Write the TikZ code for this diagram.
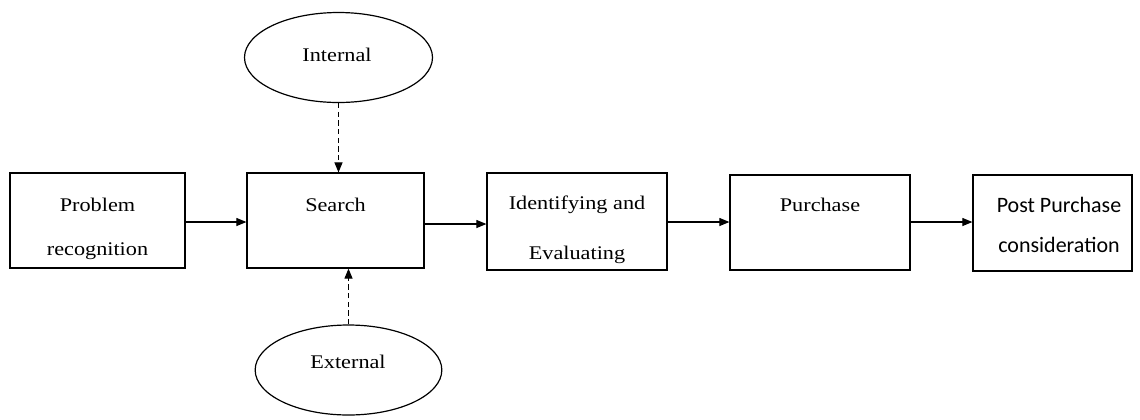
\documentclass[tikz,border=0pt]{standalone}
\usepackage{fontspec}
\setmainfont{Liberation Serif}[FakeStretch=1.15]
\newfontfamily\calibrifont{Carlito}
\usetikzlibrary{arrows.meta,shapes.geometric}

\tikzset{
  stagebox/.style={draw, line width=0.9pt, inner sep=0pt},
  srcellipse/.style={draw, ellipse, line width=0.9pt, inner sep=0pt},
  flowarrow/.style={line width=0.8pt, -{Triangle[length=7.5pt,width=6pt]}},
  srcarrow/.style={flowarrow, dash pattern=on 4pt off 2.5pt},
  lbl/.style={inner sep=0.75pt, font=\fontsize{14.5}{16}\selectfont}
}

\begin{document}
\begin{tikzpicture}[x=0.75pt,y=0.75pt,yscale=-1,xscale=1]

\useasboundingbox (0,0) rectangle (1140,419);

% stage boxes
\node [stagebox, minimum width=131.25pt, minimum height=71.25pt] (prob) at (97.5,220.5) {};
\node [stagebox, minimum width=132.75pt, minimum height=71.25pt] (srch) at (335.5,220.5) {};
\node [stagebox, minimum width=135pt, minimum height=72.75pt] (ident) at (577,221.5) {};
\node [stagebox, minimum width=135pt, minimum height=71.25pt] (purch) at (820,222.5) {};
\node [stagebox, minimum width=119.25pt, minimum height=72pt] (post) at (1052.5,223) {};

% information sources
\node [srcellipse, minimum width=141pt, minimum height=67.5pt] (intl) at (338.5,57.5) {};
\node [srcellipse, minimum width=140pt, minimum height=67.5pt] (extl) at (348.5,370) {};

% texts
\draw (97.5,205) node [lbl] {Problem};
\draw (97.5,251) node [lbl] {recognition};
\draw (335.5,205) node [lbl] {Search};
\draw (577,205) node [lbl] {Identifying and};
\draw (577,255) node [lbl] {Evaluating};
\draw (820,205) node [lbl] {Purchase};
\draw (1059,205) node [lbl, font=\calibrifont\fontsize{16.5}{18}\selectfont] {Post Purchase};
\draw (1059,245) node [lbl, font=\calibrifont\fontsize{16.5}{18}\selectfont] {consideration};
\draw (337,55) node [lbl] {Internal};
\draw (348,362) node [lbl] {External};

% connectors
\draw [flowarrow] (prob.east |- 0,222) -- (srch.west |- 0,222);
\draw [flowarrow] (srch.east |- 0,224) -- (ident.west |- 0,224);
\draw [flowarrow] (ident.east |- 0,222) -- (purch.west |- 0,222);
\draw [flowarrow] (purch.east |- 0,222) -- (post.west |- 0,222);
\draw [srcarrow] (intl.south) -- (intl.south |- srch.north);
\draw [srcarrow] (extl.north) -- (extl.north |- srch.south);

\end{tikzpicture}
\end{document}
